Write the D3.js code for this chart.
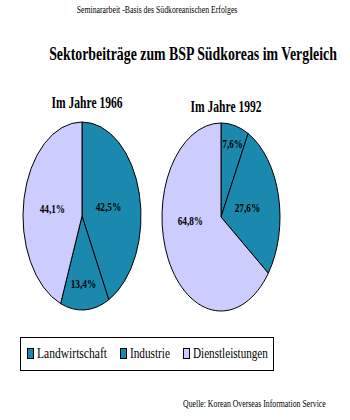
<!DOCTYPE html>
<html>
<head>
<meta charset="utf-8">
<script src="https://cdn.jsdelivr.net/npm/d3@7"></script>
<style>
  body { margin: 0; background: #fff; }
</style>
</head>
<body>
<div id="chart"></div>
<script>
// data
var sectors = ["Landwirtschaft", "Industrie", "Dienstleistungen"];
var years = ["1966", "1992"];
var values1966 = [42.5, 13.4, 44.1];
var values1992 = [7.6, 27.6, 64.8];
var labels1966 = ["42,5%", "13,4%", "44,1%"];
var labels1992 = ["7,6%", "27,6%", "64,8%"];

var width = 350, height = 420;
var serif = "'Liberation Serif', 'Times New Roman', Times, serif";

var svg = d3.select("#chart")
  .append("svg")
    .attr("width", width)
    .attr("height", height);

// colors, one per sector (agriculture and industry share the same teal)
var color = d3.scaleOrdinal()
    .domain(sectors)
    .range(["#1a89ad", "#1a89ad", "#ccccff"]);

// condensed Times look: draw text then squeeze it horizontally to a width
function squeezed(g, x, y, str, size, weight, len, anchor) {
  var t = g.append("text")
    .attr("font-family", serif)
    .attr("font-size", size)
    .attr("font-weight", weight)
    .attr("text-anchor", anchor || "middle")
    .text(str);
  var w = t.node().getComputedTextLength();
  var s = len / w;
  t.attr("transform", "translate(" + x + "," + y + ") scale(" + s + ",1)");
  return t;
}

// header + title
squeezed(svg, 157, 13, "Seminararbeit -Basis des Südkoreanischen Erfolges", 9.5, "normal", 161);
squeezed(svg, 193, 60, "Sektorbeiträge zum BSP Südkoreas im Vergleich", 19, "bold", 288);

// pies: drawn on a unit circle and stretched into an ellipse
var rx = 59, ry = 94, R = 100;
var pie = d3.pie().sort(null).value(function(d) { return d; });
var arc = d3.arc().innerRadius(0).outerRadius(R);

// label anchors (fraction of radius, angle in degrees) - layout only
var pies = [
  {year: years[0], values: values1966, labels: labels1966, cx: 82, cy: 216, titleY: 108,
   anchors: [[0.46, 77], [0.71, 178], [0.51, 280]]},
  {year: years[1], values: values1992, labels: labels1992, cx: 221, cy: 217, titleY: 112,
   anchors: [[0.81, 14], [0.46, 77], [0.52, 266]]}
];

pies.forEach(function(p) {
  squeezed(svg, p.cx + 5, p.titleY, "Im Jahre " + p.year, 16, "bold", 71);

  var arcs = pie(p.values);
  var g = svg.append("g")
    .attr("transform", "translate(" + p.cx + "," + p.cy + ")");

  g.append("g")
    .attr("transform", "scale(" + (rx / R) + "," + (ry / R) + ")")
    .selectAll("path")
    .data(arcs)
    .enter().append("path")
      .attr("d", arc)
      .attr("fill", function(d, i) { return color(sectors[i]); })
      .attr("stroke", "#000")
      .attr("stroke-width", 1)
      .attr("vector-effect", "non-scaling-stroke");

  arcs.forEach(function(d, i) {
    var k = p.anchors[i][0], a = p.anchors[i][1] * Math.PI / 180;
    var lx = Math.sin(a) * rx * k;
    var ly = -Math.cos(a) * ry * k;
    squeezed(g, lx, ly + 5, p.labels[i], 13, "bold", p.labels[i].length * 5.1);
  });
});

// legend
var legend = svg.append("g");
legend.append("rect")
  .attr("x", 20.5).attr("y", 337.5)
  .attr("width", 253).attr("height", 33)
  .attr("fill", "none")
  .attr("stroke", "#000");

var legendX = [27, 120, 183];
var legendLen = [70, 40, 75];
sectors.forEach(function(s, i) {
  legend.append("rect")
    .attr("x", legendX[i] + 0.5).attr("y", 348.5)
    .attr("width", 6).attr("height", 10)
    .attr("fill", color(s))
    .attr("stroke", "#000");
  squeezed(legend, legendX[i] + 10, 358, s, 14, "normal", legendLen[i], "start");
});

// source
squeezed(svg, 183, 407, "Quelle: Korean Overseas Information Service", 10, "normal", 143, "start");
</script>
</body>
</html>
